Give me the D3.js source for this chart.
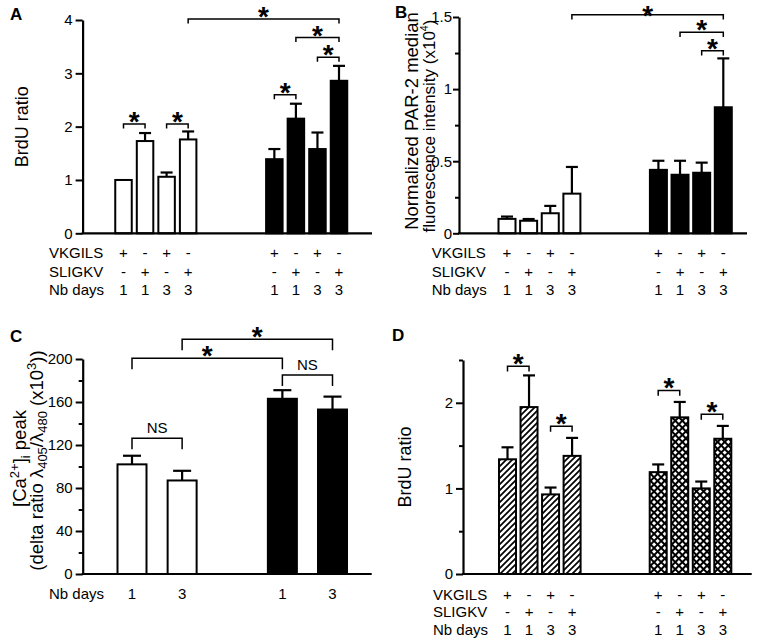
<!DOCTYPE html>
<html><head><meta charset="utf-8">
<script src="https://cdn.jsdelivr.net/npm/d3@7"></script>
<style>
body{margin:0;background:#fff}
svg{display:block}
text{font-family:"Liberation Sans",Arial,Helvetica,sans-serif;fill:#000}
</style>
</head><body>
<svg id="chart" width="759" height="638"></svg>
<script>
// ---------- data ----------
const vkgils = ["+","-","+","-","+","-","+","-"];
const sligkv = ["-","+","-","+","-","+","-","+"];
const nbDays = ["1","1","3","3","1","1","3","3"];
const slots8 = [0,1,2,3,7,8,9,10];
const groupFill8 = ["white","white","white","white","black","black","black","black"];

// Panel A: BrdU ratio
const aMean = [1.00,1.73,1.06,1.76,1.39,2.15,1.58,2.86];
const aSem  = [0,0.15,0.08,0.15,0.19,0.28,0.31,0.28];
const aTicks = [0,1,2,3,4];
const aBrackets = [[0,1,2.05,"*"],[2,3,2.05,"*"],[4,5,2.60,"*"],[6,7,3.30,"*"],[5,7,3.67,"*"],[3,7,4.02,"*"]];

// Panel B: PAR-2 fluorescence
const bMean = [0.100,0.087,0.139,0.275,0.440,0.406,0.420,0.874];
const bSem  = [0.016,0.012,0.051,0.185,0.063,0.097,0.070,0.339];
const bTicks = [0,0.5,1,1.5];
const bTickLabels = ["0","0.5","1","1.5"];
const bMinor = [0.25,0.75,1.25];
const bBrackets = [[3,7,1.516,"*"],[5,7,1.394,"*"],[6,7,1.266,"*"]];

// Panel C: [Ca2+]i peak
const cDays = ["1","3","1","3"];
const cSlots = [0,1,3,4];
const cFill = ["white","white","black","black"];
const cMean = [102,87,163,153];
const cSem  = [8,9,8,12];
const cTicks = [0,40,80,120,160,200];
const cMinor = [20,60,100,140,180];
const cBrackets = [[0,2,200.7,"*"],[1,3,218.3,"*"],[2,3,185.1,"NS"],[0,1,126.2,"NS"]];

// Panel D: BrdU ratio (hatched)
const dMean = [1.34,1.95,0.93,1.38,1.19,1.83,1.00,1.58];
const dSem  = [0.14,0.37,0.08,0.21,0.09,0.18,0.08,0.15];
const dFill8 = ["hatch","hatch","hatch","hatch","cross","cross","cross","cross"];
const dTicks = [0,1,2];
const dMinor = [0.5,1.5,2.5];
const dBrackets = [[0,1,2.428,"*"],[2,3,1.725,"*"],[4,5,2.145,"*"],[6,7,1.865,"*"]];

// ---------- drawing ----------
const svg = d3.select("#chart");
const defs = svg.append("defs");
const ph = defs.append("pattern").attr("id","hatch").attr("patternUnits","userSpaceOnUse")
  .attr("width",6).attr("height",6);
ph.append("rect").attr("width",6).attr("height",6).attr("fill","#fff");
ph.append("path").attr("d","M0,6L6,0M-1.5,1.5L1.5,-1.5M4.5,7.5L7.5,4.5")
  .attr("stroke","#000").attr("stroke-width",1.7);
const pc = defs.append("pattern").attr("id","cross").attr("patternUnits","userSpaceOnUse")
  .attr("width",5).attr("height",5).attr("patternTransform","rotate(45)");
pc.append("rect").attr("width",5).attr("height",5).attr("fill","#000");
pc.append("rect").attr("x",1).attr("y",1).attr("width",3).attr("height",3).attr("fill","#fff");

function fillOf(f){ return f==="hatch"?"url(#hatch)":f==="cross"?"url(#cross)":(f==="black"?"#000":"#fff"); }

function panel(p){
  const g = svg.append("g");
  const x = d3.scaleLinear().domain(p.slotDom).range(p.slotRange);
  const y = d3.scaleLinear().domain([0,p.yMax]).range([p.y0,p.yTop]);
  // bars
  const data = p.mean.map((m,i)=>({m, s:p.sem[i], slot:p.slots[i], fill:p.fills[i]}));
  g.selectAll("rect.bar").data(data).join("rect").attr("class","bar")
    .attr("x",d=>x(d.slot)-p.bw/2).attr("y",d=>y(d.m))
    .attr("width",p.bw).attr("height",d=>y(0)-y(d.m))
    .attr("fill",d=>fillOf(d.fill)).attr("stroke","#000").attr("stroke-width",2);
  // error bars
  const eb = g.selectAll("g.err").data(data.filter(d=>d.s>0)).join("g").attr("class","err")
    .attr("stroke","#000").attr("stroke-width",2.2);
  eb.append("line").attr("x1",d=>x(d.slot)).attr("x2",d=>x(d.slot))
    .attr("y1",d=>y(d.m)).attr("y2",d=>y(d.m+d.s));
  eb.append("line").attr("x1",d=>x(d.slot)-p.cap/2).attr("x2",d=>x(d.slot)+p.cap/2)
    .attr("y1",d=>y(d.m+d.s)).attr("y2",d=>y(d.m+d.s));
  // y axis
  const ax = d3.axisLeft(y).tickValues(p.ticks).tickSize(p.tick||7).tickSizeOuter(0).tickPadding(p.pad||3)
    .tickFormat((d,i)=>p.tickLabels?p.tickLabels[i]:d3.format("")(d));
  const ag = g.append("g").attr("transform",`translate(${p.xAxis0},0)`).call(ax);
  ag.select(".domain").attr("stroke-width",2.2);
  ag.selectAll(".tick line").attr("stroke-width",2);
  ag.selectAll(".tick text").attr("font-size",15).attr("font-family",'"Liberation Sans",Arial,sans-serif');
  if(p.minor){
    const mg = g.append("g").attr("transform",`translate(${p.xAxis0},0)`)
      .call(d3.axisLeft(y).tickValues(p.minor).tickSize(4).tickSizeOuter(0).tickFormat(""));
    mg.select(".domain").remove();
    mg.selectAll(".tick line").attr("stroke-width",2);
  }
  // x axis line
  g.append("line").attr("x1",p.xAxis0-1).attr("x2",p.xAxis1).attr("y1",y(0)).attr("y2",y(0))
    .attr("stroke","#000").attr("stroke-width",2.2);
  // brackets
  p.brackets.forEach(([i,j,lv,lab])=>{
    const x1=x(p.slots[i]), x2=x(p.slots[j]), yy=y(lv);
    g.append("path").attr("d",`M${x1},${yy+p.bt}V${yy}H${x2}V${yy+p.bt}`)
      .attr("fill","none").attr("stroke","#000").attr("stroke-width",1.5);
    if(lab==="*"){
      g.append("text").attr("x",(x1+x2)/2).attr("y",Math.max(yy+7,25)).attr("text-anchor","middle")
        .attr("font-size",28).attr("font-weight","bold").text("*");
    } else {
      g.append("text").attr("x",(x1+x2)/2).attr("y",yy-5).attr("text-anchor","middle")
        .attr("font-size",15).text(lab);
    }
  });
  // row labels
  p.rows.forEach((r,k)=>{
    g.append("text").attr("x",p.rowX).attr("y",p.rowY[k]).attr("font-size",15).text(r.name);
    g.selectAll(null).data(r.vals).join("text").attr("x",(d,i)=>x(p.slots[i]))
      .attr("y",p.rowY[k]).attr("text-anchor","middle").attr("font-size",15).text(d=>d);
  });
  // y label
  p.ylab(g, y);
  // panel letter
  g.append("text").attr("x",p.letterPos[0]).attr("y",p.letterPos[1]).attr("font-size",17)
    .attr("font-weight","bold").text(p.letter);
}

const rows8 = [{name:"VKGILS",vals:vkgils},{name:"SLIGKV",vals:sligkv},{name:"Nb days",vals:nbDays}];

panel({letter:"A",letterPos:[10,20],slotDom:[0,10],slotRange:[123.5,339],slots:slots8,fills:groupFill8,
  mean:aMean,sem:aSem,yMax:4,y0:233.3,yTop:20,ticks:aTicks,bw:16.5,cap:12,xAxis0:82.6,xAxis1:372,
  brackets:aBrackets,bt:4.5,rows:rows8,rowX:49,rowY:[258.3,276.7,295],
  ylab:(g,y)=>{g.append("text").attr("transform",`translate(28,${(y(0)+y(4))/2}) rotate(-90)`)
    .attr("text-anchor","middle").attr("font-size",18).text("BrdU ratio");}});

panel({letter:"B",letterPos:[395,18],slotDom:[0,10],slotRange:[507,723.3],slots:slots8,fills:groupFill8,
  mean:bMean,sem:bSem,yMax:1.5,y0:233.3,yTop:17,ticks:bTicks,tickLabels:bTickLabels,minor:bMinor,bw:17,cap:12,
  tick:6,pad:1,
  xAxis0:459,xAxis1:747,brackets:bBrackets,bt:4.7,rows:rows8,rowX:431.7,rowY:[258.3,276.7,295],
  ylab:(g,y)=>{
    g.append("text").attr("transform",`translate(418,121) rotate(-90)`).attr("text-anchor","middle")
      .attr("font-size",18.5).text("Normalized PAR-2 median");
    const t=g.append("text").attr("transform",`translate(435,126) rotate(-90)`).attr("text-anchor","middle")
      .attr("font-size",17);
    t.append("tspan").text("fluorescence intensity (x10");
    t.append("tspan").attr("font-size",10.5).attr("dy",-7).text("4");
    t.append("tspan").attr("dy",7).text(")");
  }});

panel({letter:"C",letterPos:[10,342],slotDom:[0,4],slotRange:[132,332.5],slots:cSlots,fills:cFill,
  mean:cMean,sem:cSem,yMax:200,y0:574,yTop:359,ticks:cTicks,minor:cMinor,bw:29,cap:18,
  xAxis0:82.7,xAxis1:371.7,brackets:cBrackets,bt:11,rows:[{name:"Nb days",vals:cDays}],rowX:49,rowY:[598.5],
  ylab:(g,y)=>{
    const cy=(y(0)+y(200))/2;
    const t1=g.append("text").attr("transform",`translate(26,${cy-8}) rotate(-90)`).attr("text-anchor","middle")
      .attr("font-size",18.5);
    t1.append("tspan").text("[Ca");
    t1.append("tspan").attr("font-size",13).attr("dy",-7).text("2+");
    t1.append("tspan").attr("dy",7).text("]");
    t1.append("tspan").attr("font-size",13).attr("dy",4).text("i");
    t1.append("tspan").attr("dy",-4).text(" peak");
    const t2=g.append("text").attr("transform",`translate(43,${cy-6}) rotate(-90)`).attr("text-anchor","middle")
      .attr("font-size",18.5);
    t2.append("tspan").text("(delta ratio λ");
    t2.append("tspan").attr("font-size",13).attr("dy",4).text("405");
    t2.append("tspan").attr("dy",-4).text("/λ");
    t2.append("tspan").attr("font-size",13).attr("dy",4).text("480");
    t2.append("tspan").attr("dy",-4).text(" (x10");
    t2.append("tspan").attr("font-size",13).attr("dy",-7).text("3");
    t2.append("tspan").attr("dy",7).text("))");
  }});

panel({letter:"D",letterPos:[392,341],slotDom:[0,10],slotRange:[507.5,722.8],slots:slots8,fills:dFill8,
  mean:dMean,sem:dSem,yMax:2.5,y0:574,yTop:360,ticks:dTicks,minor:dMinor,bw:17,cap:12,
  xAxis0:463,xAxis1:751.7,brackets:dBrackets,bt:5.3,rows:rows8,rowX:433,rowY:[599.5,617,634.5],
  ylab:(g,y)=>{g.append("text").attr("transform",`translate(411,${(y(0)+y(2.5))/2}) rotate(-90)`)
    .attr("text-anchor","middle").attr("font-size",18).text("BrdU ratio");}});
</script>
</body></html>
